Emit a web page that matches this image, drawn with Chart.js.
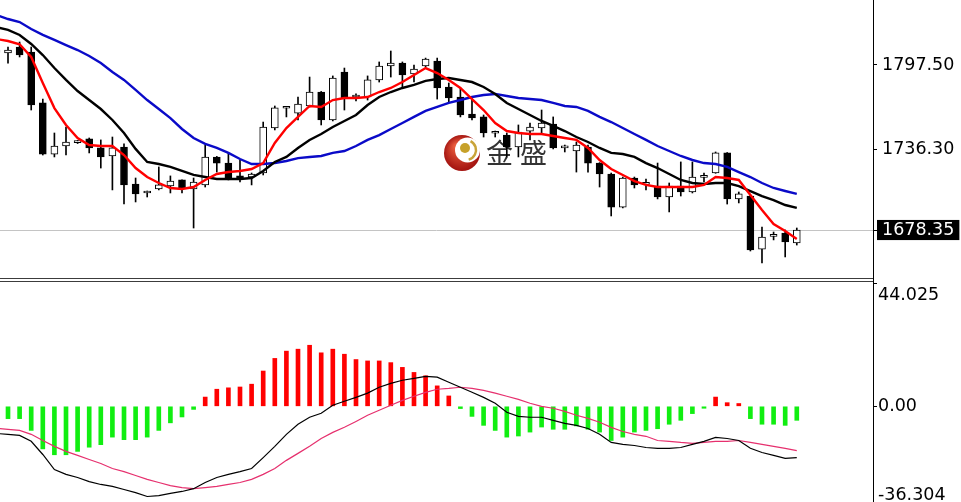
<!DOCTYPE html>
<html>
<head>
<meta charset="utf-8">
<script src="https://cdn.jsdelivr.net/npm/chart.js@4.4.0/dist/chart.umd.min.js"></script>
<style>
  html, body { margin: 0; padding: 0; background: #fff; overflow: hidden; width: 961px; height: 502px; }
  canvas { position: absolute; left: 0; }
  #priceChart { top: 0; }
  #macdChart { top: 283px; }
  .line { position: absolute; background: #3c3c3c; }
</style>
</head>
<body>
<canvas id="priceChart" width="961" height="278"></canvas>
<canvas id="macdChart" width="961" height="225"></canvas>
<div class="line" style="left:0;top:278px;width:874px;height:1px"></div>
<div class="line" style="left:0;top:281px;width:874px;height:1px"></div>
<div class="line" style="left:873px;top:0;width:1px;height:502px;background:#000"></div>
<script>
// candles, oldest first (index 0 sits just off the left edge)
const open = [
  1806.5,1806.2,1810.5,1806.9,1770.1,1733.2,1739.0,1741.5,1744.1,1737.6,
  1731.8,1738.3,1711.6,1705.1,1708.0,1710.1,1714.5,1708.0,1710.9,1731.1,
  1726.7,1717.4,1716.6,1719.5,1752.0,1766.3,1762.8,1767.9,1778.0,1757.8,
  1792.4,1774.4,1774.4,1786.7,1796.8,1798.9,1791.0,1796.8,1800.4,1781.6,
  1774.4,1762.1,1760.0,1748.2,1746.9,1738.3,1749.8,1752.0,1754.9,1737.6,
  1735.4,1738.3,1726.7,1718.8,1694.9,1715.9,1711.3,1710.1,1702.2,1710.1,
  1705.8,1716.4,1719.5,1734.0,1700.8,1702.9,1664.6,1673.8,1676.2,1669.0];
const high = [
  1810.0,1810.5,1814.1,1810.5,1772.9,1748.4,1752.7,1743.0,1744.8,1743.4,
  1745.5,1740.5,1715.9,1706.5,1723.9,1717.4,1714.5,1715.9,1739.7,1731.5,
  1734.0,1728.9,1719.5,1756.3,1767.9,1767.2,1774.4,1788.8,1778.4,1789.6,
  1795.3,1776.6,1789.6,1799.7,1807.6,1799.7,1797.5,1802.5,1802.5,1784.5,
  1780.9,1773.7,1761.4,1749.8,1748.4,1754.2,1755.6,1765.0,1760.0,1739.7,
  1741.9,1739.7,1727.0,1719.5,1716.6,1716.6,1715.2,1726.7,1712.3,1727.5,
  1727.5,1719.5,1734.7,1734.3,1705.8,1703.6,1680.5,1676.9,1678.4,1679.8];
const low = [
  1803.0,1798.9,1803.3,1765.0,1732.5,1731.1,1732.5,1740.8,1734.0,1723.1,
  1707.3,1697.1,1698.6,1702.2,1707.3,1705.1,1705.1,1679.8,1709.4,1720.2,
  1714.5,1713.0,1710.9,1718.1,1750.6,1760.0,1757.8,1767.2,1754.2,1757.1,
  1765.0,1771.5,1772.2,1785.2,1788.8,1781.6,1785.2,1796.1,1772.9,1770.8,
  1760.0,1757.8,1745.5,1745.5,1731.1,1731.1,1743.4,1748.4,1736.9,1734.7,
  1720.2,1720.2,1709.4,1688.5,1694.3,1708.7,1707.3,1700.8,1691.4,1702.9,
  1705.1,1713.0,1719.3,1697.1,1697.9,1663.2,1654.5,1671.2,1658.9,1667.5];
const close = [
  1808.5,1808.3,1804.7,1768.6,1733.2,1739.0,1741.9,1742.0,1737.6,1731.1,
  1737.6,1710.9,1704.4,1706.5,1710.9,1713.7,1708.7,1713.0,1731.1,1726.7,
  1715.2,1715.2,1718.8,1752.7,1766.5,1766.8,1769.3,1778.0,1757.8,1788.1,
  1773.7,1774.8,1786.7,1796.8,1798.9,1790.3,1794.6,1801.8,1780.9,1773.7,
  1761.4,1759.2,1748.4,1748.6,1738.3,1749.1,1752.7,1755.6,1737.6,1739.0,
  1739.7,1726.7,1718.8,1694.9,1715.9,1710.9,1711.8,1702.2,1710.1,1705.8,
  1716.6,1716.9,1734.0,1700.8,1704.4,1663.9,1673.3,1674.2,1669.7,1678.35];

// moving averages
const maFast = [
  1816.3,1814.8,1812.5,1803.3,1784.5,1766.4,1754.2,1744.8,1739.7,1739.0,
  1739.0,1732.5,1723.1,1716.6,1712.3,1708.7,1708.0,1709.4,1714.5,1718.8,
  1720.2,1721.0,1722.4,1726.7,1741.2,1752.0,1760.0,1767.9,1767.2,1772.2,
  1773.7,1773.7,1774.4,1778.0,1780.9,1785.2,1790.3,1795.3,1791.7,1786.7,
  1780.9,1772.9,1765.0,1755.6,1749.8,1748.4,1747.7,1747.7,1746.2,1744.8,
  1743.4,1737.6,1728.9,1722.4,1718.1,1713.7,1710.9,1709.4,1709.4,1709.4,
  1709.4,1710.9,1716.6,1715.9,1714.5,1703.6,1692.8,1682.7,1677.6,1671.9];
const maMid = [
  1824.9,1822.8,1819.2,1812.7,1804.7,1795.3,1786.7,1778.7,1772.2,1765.7,
  1757.8,1748.4,1736.9,1727.5,1726.0,1723.9,1721.0,1718.1,1716.6,1715.2,
  1715.2,1715.2,1715.9,1721.0,1727.5,1731.1,1737.6,1743.4,1747.7,1752.7,
  1757.1,1761.4,1768.6,1774.4,1778.0,1780.9,1783.1,1786.0,1787.4,1788.1,
  1786.7,1785.2,1781.6,1776.6,1770.1,1765.7,1761.4,1757.1,1753.5,1749.8,
  1745.5,1741.9,1737.6,1734.0,1733.2,1731.1,1726.7,1723.1,1718.8,1714.5,
  1712.3,1711.6,1712.3,1712.3,1710.1,1706.5,1702.9,1700.0,1696.4,1694.3];
const maSlow = [
  1833.6,1830.7,1828.5,1823.5,1819.2,1815.6,1811.9,1808.3,1804.0,1798.9,
  1792.4,1786.7,1779.5,1772.2,1765.7,1759.2,1751.3,1744.8,1740.5,1737.6,
  1734.0,1729.6,1726.0,1726.0,1726.7,1728.2,1730.3,1731.1,1731.8,1734.0,
  1735.4,1739.0,1743.4,1746.9,1751.3,1755.6,1760.0,1764.3,1767.2,1770.1,
  1772.2,1774.4,1775.8,1776.6,1775.1,1773.7,1772.9,1772.2,1770.1,1767.9,
  1767.2,1764.3,1760.0,1756.3,1752.0,1747.7,1743.4,1739.0,1735.4,1731.8,
  1728.9,1726.7,1726.0,1723.9,1720.2,1716.6,1712.3,1708.7,1706.5,1704.4];

// MACD panel
const macdHist = [
  -4.0,-4.4,-4.4,-8.6,-15.2,-17.3,-17.3,-16.1,-14.6,-13.7,
  -11.0,-11.9,-11.9,-11.0,-8.6,-5.9,-3.8,-1.1,3.3,6.1,
  6.6,6.9,7.9,12.6,17.1,19.7,20.4,21.8,19.1,20.4,
  18.6,16.7,16.2,16.2,15.6,13.9,12.1,10.9,7.3,3.7,
  -0.8,-3.6,-6.8,-8.6,-11.0,-10.6,-9.2,-7.4,-8.2,-8.2,
  -7.0,-8.2,-9.2,-12.2,-11.0,-9.2,-8.6,-8.0,-6.4,-5.0,
  -2.6,-0.7,3.3,1.3,1.0,-4.4,-6.4,-6.4,-6.8,-5.0];
const macdLine = [
  -9.7,-10.0,-10.4,-12.5,-17.2,-22.6,-24.3,-25.4,-26.9,-27.9,
  -28.6,-29.7,-30.8,-32.2,-31.9,-31.1,-30.4,-29.4,-27.2,-25.4,
  -24.3,-23.3,-22.2,-18.3,-14.3,-10.0,-6.4,-3.9,-2.5,0.4,
  1.8,3.2,4.7,6.8,8.2,9.3,10.0,10.7,10.4,8.6,
  6.8,5.0,3.2,1.1,-2.1,-3.6,-3.9,-3.9,-5.0,-6.1,
  -6.8,-7.9,-10.0,-12.9,-13.6,-14.0,-14.7,-15.0,-15.0,-14.7,
  -13.6,-12.5,-11.1,-11.5,-12.2,-15.0,-16.5,-17.5,-18.6,-18.3];
const signalLine = [
  -7.9,-8.2,-8.6,-10.0,-12.2,-14.3,-16.1,-17.5,-19.0,-20.4,
  -22.2,-23.3,-24.7,-26.1,-27.2,-28.3,-29.0,-29.4,-29.0,-28.6,
  -27.9,-27.2,-26.1,-24.3,-22.2,-19.3,-16.8,-14.3,-11.5,-9.3,
  -7.5,-5.4,-3.2,-1.4,0.4,2.1,3.6,5.0,6.1,6.4,
  6.8,6.4,5.7,4.7,3.6,2.5,1.1,0,-0.7,-1.8,
  -3.2,-4.3,-5.7,-7.5,-9.0,-10.0,-10.7,-12.2,-12.5,-12.9,
  -13.2,-12.9,-12.5,-12.5,-12.2,-12.9,-13.6,-14.3,-15.0,-15.8];

// axis ticks
const bidPrice = 1678.35;
const priceTicks = [1678.35, 1736.30, 1797.50];
const priceTickLabels = ['1678.35', '1736.30', '1797.50'];
const macdTicks = [-36.304, 0, 44.025];
const macdTickLabels = ['-36.304', '0.00', '44.025'];

const xs = close.map((_, i) => i);
const pts = arr => arr.map((v, i) => ({ x: xs[i], y: v }));

const xAxis = { type: 'linear', min: 0.31, max: 75.57, display: false, offset: false };

const watermark = {
  id: 'watermark',
  beforeDatasetsDraw(chart) {
    const c = chart.ctx;
    c.save();
    const g = c.createRadialGradient(456, 146, 2, 462, 153, 19);
    g.addColorStop(0, '#e85a3c');
    g.addColorStop(1, '#a0100e');
    c.fillStyle = g;
    c.beginPath(); c.arc(462, 153, 18, 0, Math.PI * 2); c.fill();
    c.fillStyle = '#fff';
    c.beginPath(); c.arc(467.5, 150, 12.5, 0, Math.PI * 2); c.fill();
    c.strokeStyle = '#c9a43a'; c.lineWidth = 2.5;
    c.beginPath(); c.arc(466, 150, 10, -1.1, 1.3); c.stroke();
    c.fillStyle = '#c6a12a';
    c.beginPath(); c.arc(465, 148, 5, 0, Math.PI * 2); c.fill();
    c.fillStyle = '#333';
    c.font = '27px "Noto Sans CJK SC"';
    c.textBaseline = 'middle';
    c.fillText('金', 486, 153);
    c.fillText('盛', 520, 153);
    c.restore();
  }
};

new Chart(document.getElementById('priceChart'), {
  type: 'bar',
  data: {
    datasets: [
      { type: 'line', data: pts(maFast), borderColor: '#ff0000', borderWidth: 2.4, pointRadius: 0, order: 0 },
      { type: 'line', data: pts(maMid), borderColor: '#000000', borderWidth: 2.4, pointRadius: 0, order: 0 },
      { type: 'line', data: pts(maSlow), borderColor: '#0a0ac8', borderWidth: 2.4, pointRadius: 0, order: 0 },
      {
        data: xs.map(i => ({ x: i, y: [Math.min(open[i], close[i]), Math.max(open[i], close[i])] })),
        backgroundColor: ctx => close[ctx.dataIndex] >= open[ctx.dataIndex] ? '#ffffff' : '#000000',
        borderColor: '#000', borderWidth: 1, borderSkipped: false,
        barThickness: 7, minBarLength: 2, grouped: false, order: 1
      },
      {
        data: xs.map(i => ({ x: i, y: [low[i], high[i]] })),
        backgroundColor: '#000', borderWidth: 0,
        barThickness: 1, grouped: false, order: 2
      }
    ]
  },
  options: {
    responsive: false,
    animation: false,
    events: [],
    layout: { padding: 0 },
    plugins: { legend: { display: false }, tooltip: { enabled: false } },
    scales: {
      x: xAxis,
      y: {
        position: 'right',
        min: 1643.7, max: 1844.43,
        afterBuildTicks: s => { s.ticks = priceTicks.map(v => ({ value: v })); },
        afterFit: s => { s.width = 88; s.paddingTop = 0; s.paddingBottom = 0; },
        border: { color: '#000', width: 1 },
        grid: {
          color: ctx => ctx.tick && ctx.tick.value === bidPrice ? '#c4c4c4' : 'rgba(0,0,0,0)',
          tickColor: '#000', tickLength: 4, lineWidth: 1
        },
        ticks: {
          autoSkip: false, padding: 5,
          font: { family: 'DejaVu Sans', size: 17.5, lineHeight: 1.15 },
          color: ctx => ctx.tick.value === bidPrice ? '#fff' : '#000',
          showLabelBackdrop: ctx => ctx.tick.value === bidPrice,
          backdropColor: '#000', backdropPadding: { x: 5, y: 0 },
          callback: (v, i) => priceTickLabels[i]
        }
      }
    }
  },
  plugins: [watermark]
});

new Chart(document.getElementById('macdChart'), {
  type: 'bar',
  data: {
    datasets: [
      { type: 'line', data: pts(macdLine), borderColor: '#000000', borderWidth: 1.2, pointRadius: 0, order: 0 },
      { type: 'line', data: pts(signalLine), borderColor: '#e6306e', borderWidth: 1.2, pointRadius: 0, order: 1 },
      {
        data: pts(macdHist),
        backgroundColor: ctx => macdHist[ctx.dataIndex] >= 0 ? '#ff0000' : '#11ee11',
        borderWidth: 0, barThickness: 4, grouped: false, order: 2
      }
    ]
  },
  options: {
    responsive: false,
    animation: false,
    events: [],
    layout: { padding: 0 },
    plugins: { legend: { display: false }, tooltip: { enabled: false } },
    scales: {
      x: xAxis,
      y: {
        position: 'right',
        min: -36.304, max: 44.025,
        afterBuildTicks: s => { s.ticks = macdTicks.map(v => ({ value: v })); },
        afterFit: s => { s.width = 88; s.paddingTop = 0; s.paddingBottom = 0; },
        border: { color: '#000', width: 1 },
        grid: { color: 'rgba(0,0,0,0)', tickColor: '#000', tickLength: 4 },
        ticks: {
          autoSkip: false, padding: 1, color: '#000',
          font: { family: 'DejaVu Sans', size: 17.5, lineHeight: 1.4 },
          // edge labels sit inside the panel, like the terminal draws them
          callback: (v, i) => i === 0 ? [macdTickLabels[i], ''] : i === macdTicks.length - 1 ? ['', macdTickLabels[i]] : macdTickLabels[i]
        }
      }
    }
  }
});
</script>
</body>
</html>
